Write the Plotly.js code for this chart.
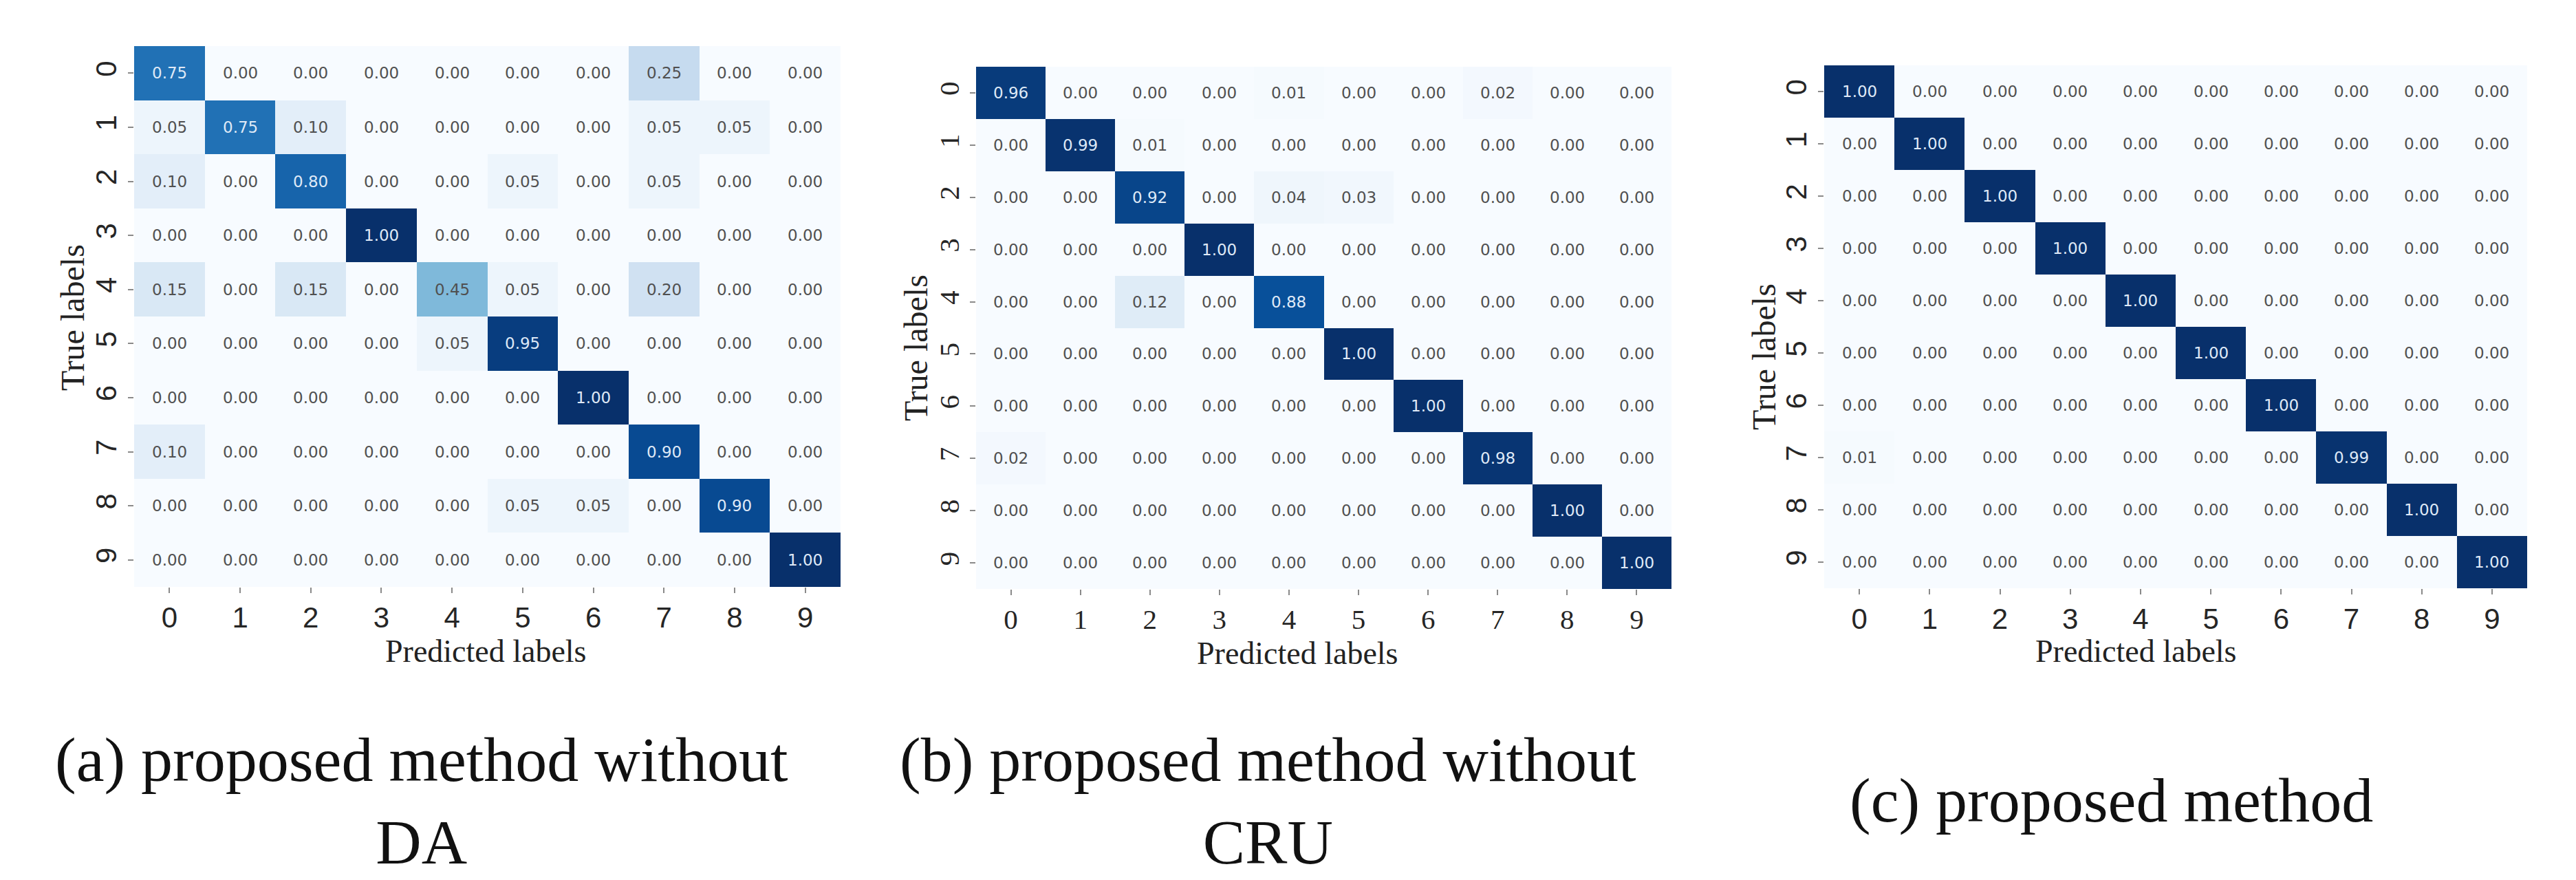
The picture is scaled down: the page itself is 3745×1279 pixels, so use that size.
<!DOCTYPE html>
<html>
<head>
<meta charset="utf-8">
<script src="https://cdn.plot.ly/plotly-3.0.1.min.js"></script>
<style>
  html, body { margin: 0; padding: 0; background: #fff; }
  #chart { width: 3745px; height: 1279px; }
</style>
</head>
<body>
<div id="chart"></div>
<script>
// class labels 0..9
const classLabels = [0, 1, 2, 3, 4, 5, 6, 7, 8, 9];

// (a) proposed method without DA
const cmA = [
    [0.75, 0.00, 0.00, 0.00, 0.00, 0.00, 0.00, 0.25, 0.00, 0.00],
    [0.05, 0.75, 0.10, 0.00, 0.00, 0.00, 0.00, 0.05, 0.05, 0.00],
    [0.10, 0.00, 0.80, 0.00, 0.00, 0.05, 0.00, 0.05, 0.00, 0.00],
    [0.00, 0.00, 0.00, 1.00, 0.00, 0.00, 0.00, 0.00, 0.00, 0.00],
    [0.15, 0.00, 0.15, 0.00, 0.45, 0.05, 0.00, 0.20, 0.00, 0.00],
    [0.00, 0.00, 0.00, 0.00, 0.05, 0.95, 0.00, 0.00, 0.00, 0.00],
    [0.00, 0.00, 0.00, 0.00, 0.00, 0.00, 1.00, 0.00, 0.00, 0.00],
    [0.10, 0.00, 0.00, 0.00, 0.00, 0.00, 0.00, 0.90, 0.00, 0.00],
    [0.00, 0.00, 0.00, 0.00, 0.00, 0.05, 0.05, 0.00, 0.90, 0.00],
    [0.00, 0.00, 0.00, 0.00, 0.00, 0.00, 0.00, 0.00, 0.00, 1.00]
];

// (b) proposed method without CRU
const cmB = [
    [0.96, 0.00, 0.00, 0.00, 0.01, 0.00, 0.00, 0.02, 0.00, 0.00],
    [0.00, 0.99, 0.01, 0.00, 0.00, 0.00, 0.00, 0.00, 0.00, 0.00],
    [0.00, 0.00, 0.92, 0.00, 0.04, 0.03, 0.00, 0.00, 0.00, 0.00],
    [0.00, 0.00, 0.00, 1.00, 0.00, 0.00, 0.00, 0.00, 0.00, 0.00],
    [0.00, 0.00, 0.12, 0.00, 0.88, 0.00, 0.00, 0.00, 0.00, 0.00],
    [0.00, 0.00, 0.00, 0.00, 0.00, 1.00, 0.00, 0.00, 0.00, 0.00],
    [0.00, 0.00, 0.00, 0.00, 0.00, 0.00, 1.00, 0.00, 0.00, 0.00],
    [0.02, 0.00, 0.00, 0.00, 0.00, 0.00, 0.00, 0.98, 0.00, 0.00],
    [0.00, 0.00, 0.00, 0.00, 0.00, 0.00, 0.00, 0.00, 1.00, 0.00],
    [0.00, 0.00, 0.00, 0.00, 0.00, 0.00, 0.00, 0.00, 0.00, 1.00]
];

// (c) proposed method
const cmC = [
    [1.00, 0.00, 0.00, 0.00, 0.00, 0.00, 0.00, 0.00, 0.00, 0.00],
    [0.00, 1.00, 0.00, 0.00, 0.00, 0.00, 0.00, 0.00, 0.00, 0.00],
    [0.00, 0.00, 1.00, 0.00, 0.00, 0.00, 0.00, 0.00, 0.00, 0.00],
    [0.00, 0.00, 0.00, 1.00, 0.00, 0.00, 0.00, 0.00, 0.00, 0.00],
    [0.00, 0.00, 0.00, 0.00, 1.00, 0.00, 0.00, 0.00, 0.00, 0.00],
    [0.00, 0.00, 0.00, 0.00, 0.00, 1.00, 0.00, 0.00, 0.00, 0.00],
    [0.00, 0.00, 0.00, 0.00, 0.00, 0.00, 1.00, 0.00, 0.00, 0.00],
    [0.01, 0.00, 0.00, 0.00, 0.00, 0.00, 0.00, 0.99, 0.00, 0.00],
    [0.00, 0.00, 0.00, 0.00, 0.00, 0.00, 0.00, 0.00, 1.00, 0.00],
    [0.00, 0.00, 0.00, 0.00, 0.00, 0.00, 0.00, 0.00, 0.00, 1.00]
];

const captions = [
    '(a) proposed method without<br>DA',
    '(b) proposed method without<br>CRU',
    '(c) proposed method'
];

// seaborn "Blues"
const blues = [
    [0.0, '#f7fbff'], [0.125, '#deebf7'], [0.25, '#c6dbef'], [0.375, '#9ecae1'],
    [0.5, '#6baed6'], [0.625, '#4292c6'], [0.75, '#2171b5'], [0.875, '#08519c'],
    [1.0, '#08306b']
];

const W = 3745, H = 1279;
const fx = x => x / W;
const fy = y => 1 - y / H;

const serif = 'Liberation Serif, Times New Roman, serif';
const sans = 'Liberation Sans, Arial, sans-serif';

// pixel boxes of each heatmap
const panels = [
    { cm: cmA, box: [195, 67, 1222, 853], tickFont: sans, tickSize: 42,
      yTitle: [105, 462], xTitle: [706, 946], caption: [613, 1164] },
    { cm: cmB, box: [1419, 97, 2430, 856], tickFont: serif, tickSize: 41,
      yTitle: [1332, 506], xTitle: [1886, 949], caption: [1843, 1164] },
    { cm: cmC, box: [2652, 95, 3674, 855], tickFont: sans, tickSize: 42,
      yTitle: [2564, 519], xTitle: [3105, 946], caption: [3069, 1163] }
];

const traces = [];
const annotations = [];
const layout = {
    width: W,
    height: H,
    margin: { l: 0, r: 0, t: 0, b: 0 },
    paper_bgcolor: '#ffffff',
    plot_bgcolor: '#ffffff',
    showlegend: false
};

panels.forEach((p, k) => {
    const n = k === 0 ? '' : String(k + 1);
    const [x0, y0, x1, y1] = p.box;

    traces.push({
        type: 'heatmap',
        x: classLabels,
        y: classLabels,
        z: p.cm,
        zmin: 0,
        zmax: 1,
        colorscale: blues,
        showscale: false,
        hoverinfo: 'skip',
        xaxis: 'x' + n,
        yaxis: 'y' + n
    });

    const tickStyle = {
        ticks: 'outside',
        ticklen: 8,
        tickwidth: 2,
        tickcolor: '#8a8a8a',
        tickfont: { family: p.tickFont, size: p.tickSize, color: '#262626' },
        tickvals: classLabels,
        ticktext: classLabels.map(String),
        showgrid: false,
        zeroline: false,
        showline: false,
        fixedrange: true
    };

    layout['xaxis' + n] = Object.assign({}, tickStyle, {
        domain: [fx(x0), fx(x1)],
        anchor: 'y' + n,
        range: [-0.5, 9.5]
    });
    layout['yaxis' + n] = Object.assign({}, tickStyle, {
        domain: [fy(y1), fy(y0)],
        anchor: 'x' + n,
        range: [9.5, -0.5],
        tickangle: -90
    });

    // cell values
    p.cm.forEach((row, i) => {
        row.forEach((v, j) => {
            annotations.push({
                x: classLabels[j],
                y: classLabels[i],
                xref: 'x' + n,
                yref: 'y' + n,
                text: v.toFixed(2),
                showarrow: false,
                font: { family: 'DejaVu Sans, sans-serif', size: 23, color: v >= 0.5 ? '#dfe9f7' : '#505050' }
            });
        });
    });

    // axis titles
    annotations.push({
        x: fx(p.yTitle[0]), y: fy(p.yTitle[1]),
        xref: 'paper', yref: 'paper',
        text: 'True labels', textangle: -90, showarrow: false,
        xanchor: 'center', yanchor: 'middle',
        font: { family: serif, size: 48, color: '#222' }
    });
    annotations.push({
        x: fx(p.xTitle[0]), y: fy(p.xTitle[1]),
        xref: 'paper', yref: 'paper',
        text: 'Predicted labels', showarrow: false,
        xanchor: 'center', yanchor: 'middle',
        font: { family: serif, size: 46, color: '#222' }
    });

    // caption under each panel
    annotations.push({
        x: fx(p.caption[0]), y: fy(p.caption[1]),
        xref: 'paper', yref: 'paper',
        text: captions[k], showarrow: false,
        xanchor: 'center', yanchor: 'middle',
        font: { family: serif, size: 92, color: '#111' }
    });
});

layout.annotations = annotations;

Plotly.newPlot('chart', traces, layout, { displayModeBar: false, staticPlot: true });
</script>
</body>
</html>
